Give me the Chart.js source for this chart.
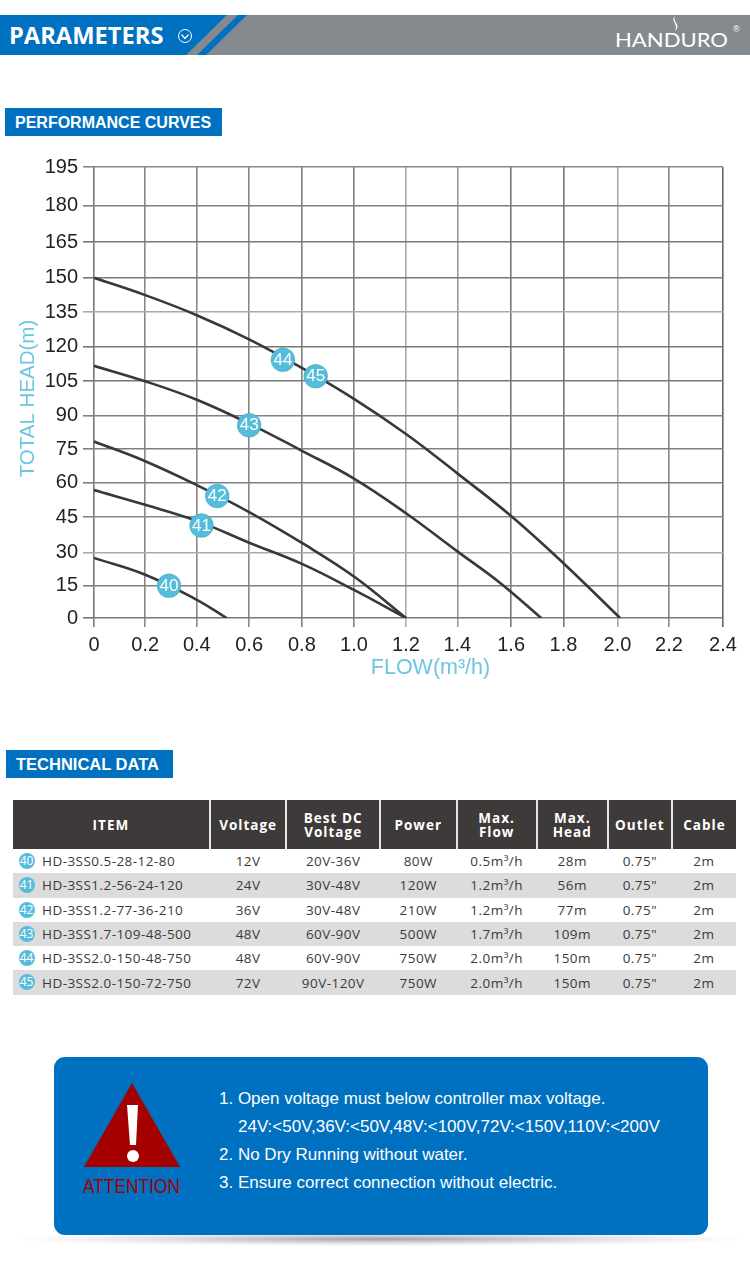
<!DOCTYPE html>
<html>
<head>
<meta charset="utf-8">
<title>Parameters</title>
<script src="https://cdn.jsdelivr.net/npm/chart.js@4/dist/chart.umd.js"></script>
<style>
  html, body { margin: 0; padding: 0; background: #fff; }
  body { position: relative; width: 750px; height: 1275px; overflow: hidden; font-family: "Liberation Sans", Arial, sans-serif; }
  .abs { position: absolute; }
  .tag { position: absolute; background: #0070c0; color: #fff; font-weight: bold; font-size: 16.5px; line-height: 28px; height: 28px; white-space: nowrap; }
  #specs { position: absolute; left: 13px; top: 800px; width: 723px; border-collapse: collapse; table-layout: fixed; font-family: "Open Sans", sans-serif; font-size: 13.5px; color: #3a3a3a; letter-spacing: .45px; }
  #specs th { background: #3e3a39; color: #fff; height: 49px; padding: 0; font-size: 13.5px; line-height: 14px; letter-spacing: 1px; border-left: 2px solid #e4e4e4; }
  #specs th:first-child { border-left: 0; }
  #specs td { height: 24.3px; padding: 0; text-align: center; white-space: nowrap; }
  #specs tbody tr:nth-child(even) td { background: #dcdcdc; }
  #specs td.item { text-align: left; padding-left: 29px; position: relative; }
  .badge { position: absolute; left: 5.5px; top: 4px; width: 16px; height: 16px; line-height: 16px; border-radius: 50%; background: #55bddc; color: #fff; font-size: 12px; text-align: center; letter-spacing: 0; }
  #notice { position: absolute; left: 54px; top: 1057px; width: 654px; height: 178px; background: #0070c0; border-radius: 11px; }
  #shadow { position: absolute; left: 20px; top: 1232px; width: 720px; height: 14px; background: radial-gradient(ellipse at center, rgba(90,90,90,.55) 0%, rgba(150,150,150,.25) 45%, rgba(255,255,255,0) 72%); }
  .note { position: absolute; color: #fff; font-size: 17px; line-height: 20px; white-space: nowrap; }
</style>
</head>
<body>

<svg class="abs" style="left:0;top:15px" width="750" height="40">
  <rect width="750" height="40" fill="#848a8e"/>
  <polygon points="0,0 227,0 186,40 0,40" fill="#0070c0"/>
  <polygon points="238,0 247,0 206,40 197,40" fill="#0070c0"/>
  <text x="9" y="29" fill="#fff" font-family="Open Sans" font-weight="700" font-size="23.7">PARAMETERS</text>
  <circle cx="185" cy="21" r="6.5" fill="none" stroke="#fff" stroke-width="1"/>
  <polyline points="181.5,19.5 185,23.5 188.5,19.5" fill="none" stroke="#fff" stroke-width="1.3"/>
  <path d="M675 1 C670 6 679 9 675 16 C682 10 672 7 675 1" fill="#fff"/>
  <text x="615" y="32" fill="#fff" font-family="Lato" font-weight="400" font-size="20" textLength="113" lengthAdjust="spacingAndGlyphs">HANDURO</text>
  <text x="733" y="17" fill="#fff" font-size="9">®</text>
</svg>

<div class="tag" style="left:5px;top:108px;width:217px;text-indent:10px;font-size:16px;line-height:29px">PERFORMANCE CURVES</div>

<canvas id="curves" class="abs" style="left:0;top:150px" width="750" height="540"></canvas>

<div class="tag" style="left:6px;top:750px;width:167px;text-indent:10px">TECHNICAL DATA</div>

<table id="specs"></table>

<div id="shadow"></div>
<div id="notice"></div>
<svg class="abs" style="left:70px;top:1075px" width="125" height="125">
  <polygon points="62,8 110,92 14,92" fill="#a50000"/>
  <polygon points="57,30 68,30 66,70 60,70" fill="#fff"/>
  <circle cx="63" cy="81" r="6" fill="#fff"/>
  <text x="13" y="118" fill="#a50000" font-family="Liberation Sans" font-size="20" textLength="97" lengthAdjust="spacingAndGlyphs">ATTENTION</text>
</svg>
<div class="note" style="left:219px;top:1089px">1. Open voltage must below controller max voltage.</div>
<div class="note" style="left:238px;top:1117px">24V:&lt;50V,36V:&lt;50V,48V:&lt;100V,72V:&lt;150V,110V:&lt;200V</div>
<div class="note" style="left:219px;top:1145px">2. No Dry Running without water.</div>
<div class="note" style="left:219px;top:1173px">3. Ensure correct connection without electric.</div>

<script>
// ── data ──
const flowTicks = [0, 0.2, 0.4, 0.6, 0.8, 1.0, 1.2, 1.4, 1.6, 1.8, 2.0, 2.2, 2.4];
const headTicks = [0, 15, 30, 45, 60, 75, 90, 105, 120, 135, 150, 165, 180, 195];

const curve40Flow = [0, 0.2, 0.4, 0.514];
const curve40Head = [27.6, 20, 8.5, 0];
const curve41Flow = [0, 0.2, 0.4, 0.6, 0.8, 1.0, 1.2];
const curve41Head = [56.7, 50.3, 43.4, 34.1, 24.9, 13.1, 0];
const curve42Flow = [0, 0.2, 0.4, 0.6, 0.8, 1.0, 1.2];
const curve42Head = [78.4, 69.5, 58.9, 47.2, 34, 19.2, 0];
const curve43Flow = [0, 0.2, 0.4, 0.6, 0.8, 1.0, 1.2, 1.4, 1.557, 1.715];
const curve43Head = [111.8, 105, 96.9, 86.4, 74.2, 61.8, 46.7, 30.4, 16.5, 0];
const curve45Flow = [0, 0.2, 0.4, 0.6, 0.8, 1.0, 1.2, 1.4, 1.6, 1.8, 2.01];
const curve45Head = [150, 142.4, 133.7, 123.3, 110.9, 97.3, 81.8, 64.1, 45.5, 25.2, 0];

const badgeLabels = ['40', '41', '42', '43', '44', '45'];
const badgeFlow = [0.292, 0.418, 0.478, 0.6, 0.728, 0.853];
const badgeHead = [15, 41.4, 54.1, 85.7, 114.4, 107.2];

const tableHead = ['ITEM', 'Voltage', 'Best DC<br>Voltage', 'Power', 'Max.<br>Flow', 'Max.<br>Head', 'Outlet', 'Cable'];
const colWidths = [196.5, 76.5, 93.5, 76.5, 80, 71, 64, 64];
const items = ['HD-3SS0.5-28-12-80', 'HD-3SS1.2-56-24-120', 'HD-3SS1.2-77-36-210', 'HD-3SS1.7-109-48-500', 'HD-3SS2.0-150-48-750', 'HD-3SS2.0-150-72-750'];
const voltage = ['12V', '24V', '36V', '48V', '48V', '72V'];
const bestDc = ['20V-36V', '30V-48V', '30V-48V', '60V-90V', '60V-90V', '90V-120V'];
const power = ['80W', '120W', '210W', '500W', '750W', '750W'];
const maxFlow = ['0.5m³/h', '1.2m³/h', '1.2m³/h', '1.7m³/h', '2.0m³/h', '2.0m³/h'];
const maxHead = ['28m', '56m', '77m', '109m', '150m', '150m'];
const outlet = '0.75"';
const cable = '2m';

// the printed grid is not evenly spaced, so the scales take the gap of each tick
const flowGaps = [51.2, 51.5, 52.3, 52.7, 52, 52, 51.3, 53.7, 52.3, 54, 51.4, 54];
const headGaps = [32.3, 33.3, 35.4, 35, 34, 33.3, 34.3, 34.3, 34.7, 35, 34.3, 36.4, 36.3, 39.3];
const flowGrid = ['#777', '#888', '#888', '#888', '#808080', '#808080', '#aaa', '#999', '#777', '#777', '#aaa', '#888', '#666'];
const headGrid = ['#777', '#808080', '#aaa', '#888', '#808080', '#808080', '#808080', '#777', '#777', '#aaa', '#777', '#777', '#808080', '#888'];

class UnevenScale extends Chart.LinearScale {
  static id = 'uneven';
  static defaults = Chart.LinearScale.defaults;

  _decimal(v) {
    const gaps = this.options.gaps;
    const total = gaps.reduce((a, b) => a + b, 0);
    const pos = Math.min(Math.max((v - this.min) / (this.max - this.min), 0), 1) * gaps.length;
    const i = Math.min(Math.floor(pos), gaps.length - 1);
    const before = gaps.slice(0, i).reduce((a, b) => a + b, 0);
    return (before + (pos - i) * gaps[i]) / total;
  }

  getPixelForValue(v) {
    return v === null ? NaN : this.getPixelForDecimal(this._decimal(v));
  }

  drawTitle() {
    const shift = this.options.titleShift || { x: 0, y: 0 };
    this.ctx.save();
    this.ctx.translate(shift.x, shift.y);
    super.drawTitle();
    this.ctx.restore();
  }
}
Chart.register(UnevenScale);

function curve(flow, head) {
  return {
    data: flow.map((x, i) => ({ x, y: head[i] })),
    showLine: true,
    borderColor: '#383838',
    borderWidth: 2.6,
    pointRadius: 0,
    tension: 0.4,
    order: 1
  };
}

const badgeText = {
  id: 'badge-text',
  afterDatasetsDraw(chart) {
    const c = chart.ctx;
    c.save();
    c.fillStyle = '#fff';
    c.font = '17px "Liberation Sans", sans-serif';
    c.textAlign = 'center';
    c.textBaseline = 'middle';
    chart.getDatasetMeta(0).data.forEach((p, i) => c.fillText(badgeLabels[i], p.x, p.y + 0.5));
    c.restore();
  }
};

new Chart(document.getElementById('curves'), {
  type: 'scatter',
  data: {
    datasets: [
      {
        data: badgeFlow.map((x, i) => ({ x, y: badgeHead[i] })),
        backgroundColor: '#55bddc',
        pointRadius: 12,
        order: 0
      },
      curve(curve40Flow, curve40Head),
      curve(curve41Flow, curve41Head),
      curve(curve42Flow, curve42Head),
      curve(curve43Flow, curve43Head),
      curve(curve45Flow, curve45Head)
    ]
  },
  options: {
    responsive: false,
    animation: false,
    events: [],
    layout: { autoPadding: false, padding: { top: 14.5, right: 27, left: 0, bottom: 0 } },
    plugins: { legend: { display: false }, tooltip: { enabled: false } },
    scales: {
      x: {
        type: 'uneven',
        gaps: flowGaps,
        titleShift: { x: 22, y: -9 },
        min: 0,
        max: 2.4,
        afterBuildTicks: s => { s.ticks = flowTicks.map(value => ({ value })); },
        afterFit: s => { s.height = 72; },
        border: { display: false },
        grid: {
          color: c => flowGrid[c.index],
          lineWidth: 1.6,
          tickLength: 9,
          tickColor: c => flowGrid[c.index]
        },
        ticks: {
          color: '#222',
          padding: 6,
          maxRotation: 0,
          autoSkip: false,
          font: { family: '"Liberation Sans"', size: 20 },
          callback: v => v === 0 ? '0' : v.toFixed(1)
        },
        title: {
          display: true,
          text: 'FLOW(m³/h)',
          color: '#6cc6e0',
          padding: { top: 2, bottom: 0 },
          font: { family: '"Liberation Sans"', size: 21.5 }
        }
      },
      y: {
        type: 'uneven',
        gaps: headGaps,
        titleShift: { x: 1, y: 6 },
        min: 0,
        max: 195,
        afterBuildTicks: s => { s.ticks = headTicks.map(value => ({ value })); },
        afterFit: s => { s.width = 94; },
        border: { display: false },
        grid: {
          color: c => headGrid[c.index],
          lineWidth: 1.6,
          tickLength: 11,
          tickColor: c => headGrid[c.index]
        },
        ticks: {
          color: '#222',
          padding: 5,
          autoSkip: false,
          font: { family: '"Liberation Sans"', size: 20 },
          callback: v => String(v)
        },
        title: {
          display: true,
          text: 'TOTAL HEAD(m)',
          color: '#6cc6e0',
          padding: { top: 15, bottom: 0 },
          font: { family: '"Liberation Sans"', size: 20.5 }
        }
      }
    }
  },
  plugins: [badgeText]
});

document.getElementById('specs').innerHTML = `
  <colgroup>${colWidths.map(w => `<col style="width:${w}px">`).join('')}</colgroup>
  <thead><tr>${tableHead.map(h => `<th>${h}</th>`).join('')}</tr></thead>
  <tbody>${items.map((item, i) => `<tr>
    <td class="item"><span class="badge">${badgeLabels[i]}</span>${item}</td>
    <td>${voltage[i]}</td><td>${bestDc[i]}</td><td>${power[i]}</td>
    <td>${maxFlow[i]}</td><td>${maxHead[i]}</td><td>${outlet}</td><td>${cable}</td>
  </tr>`).join('')}</tbody>`;
</script>
</body>
</html>
